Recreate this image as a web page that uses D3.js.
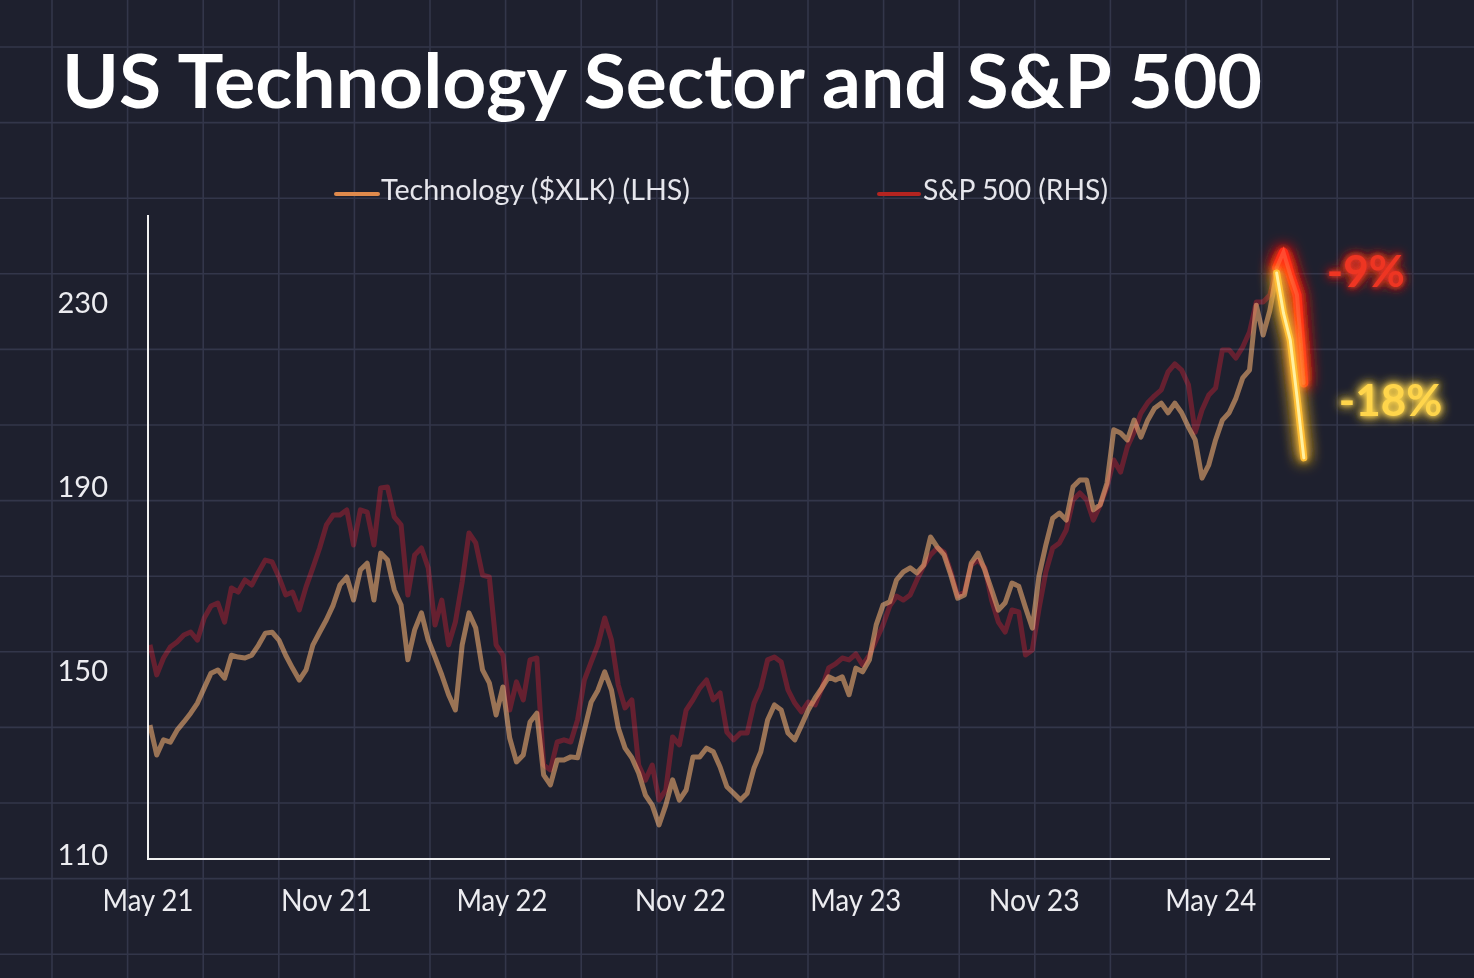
<!DOCTYPE html>
<html><head><meta charset="utf-8">
<script src="https://cdn.jsdelivr.net/npm/d3@7"></script>
<style>html,body{margin:0;padding:0;background:#1e202e;} svg{display:block}</style>
</head><body>
<svg id="chart" width="1474" height="978"></svg>
<script>
// ---------- DATA ----------
const titleText = "US Technology Sector and S&P 500";
const legendLabels = ["Technology ($XLK) (LHS)", "S&P 500 (RHS)"];
const xTickDates = ["2021-05-01","2021-11-01","2022-05-01","2022-11-01","2023-05-01","2023-11-01","2024-05-01"];
const xTickLabels = ["May 21","Nov 21","May 22","Nov 22","May 23","Nov 23","May 24"];
const yTicks = [110, 150, 190, 230];
const xDomain = ["2021-05-01", "2024-09-01"];
const weekStart = "2021-05-03", weekEnd = "2024-08-06";
const dropLabels = ["-9%", "-18%"];
const glowStart = 166; // index where the July 2024 sell-off begins

// Technology Select Sector SPDR ($XLK), weekly, LHS
const techValues = [
138.1,131.6,134.9,134.4,137.0,138.8,140.7,142.9,146.2,149.4,
150.1,148.3,153.3,152.9,152.7,153.3,155.5,158.1,158.3,156.6,
153.3,150.5,147.9,150.1,155.5,158.3,161.0,164.2,168.6,170.3,
165.3,171.8,173.3,165.3,175.5,174.0,167.5,164.2,152.3,158.8,
162.5,156.6,152.9,149.0,144.7,141.4,155.5,162.5,159.2,150.1,
147.3,140.3,146.4,135.3,130.1,131.6,138.8,140.7,127.3,125.1,
130.5,130.5,131.2,131.0,137.0,143.1,145.7,149.7,145.7,137.5,
133.1,131.0,127.7,122.9,120.7,116.4,120.7,126.2,121.8,124.0,
131.2,131.2,133.1,132.3,129.0,124.7,123.3,121.8,123.3,128.8,
132.3,139.2,142.5,141.4,136.4,134.9,138.1,141.4,144.0,146.2,
148.6,147.9,148.6,144.7,150.5,149.7,152.3,159.9,164.2,164.9,
169.7,171.4,172.3,171.2,172.9,179.0,176.8,175.1,170.7,165.7,
166.4,173.3,175.5,171.8,167.5,163.1,164.7,169.0,168.3,163.6,
159.2,170.7,177.3,183.1,184.2,182.7,189.9,191.4,191.4,184.9,
186.0,190.7,202.3,201.6,200.1,204.4,200.7,204.4,207.0,208.1,
206.0,208.1,206.0,202.9,200.1,191.8,194.7,200.1,204.4,206.0,
209.2,213.6,215.3,229.4,222.9,228.3,236.4,227.7,221.8,209.4,
196.2];

// S&P 500 index, weekly, RHS
const spxValues = [
4198,4086,4149,4190,4209,4235,4246,4216,4298,4343,
4354,4283,4410,4395,4440,4421,4470,4514,4507,4451,
4384,4395,4328,4414,4485,4559,4645,4682,4682,4701,
4570,4701,4693,4570,4783,4786,4675,4645,4384,4533,
4559,4485,4272,4365,4198,4283,4432,4615,4578,4458,
4451,4198,4160,3955,4060,3993,4142,4149,3750,3732,
3836,3844,3836,3918,4067,4134,4198,4298,4216,4048,
3963,3993,3750,3694,3750,3620,3657,3855,3825,3955,
3993,4037,4067,3993,4019,3873,3844,3870,3870,3981,
4037,4142,4153,4134,4030,3981,3948,3985,3974,4037,
4112,4127,4149,4142,4164,4123,4160,4216,4272,4343,
4380,4365,4384,4440,4492,4533,4559,4544,4470,4380,
4395,4496,4514,4485,4365,4283,4246,4328,4321,4160,
4179,4335,4470,4559,4578,4626,4738,4764,4738,4663,
4719,4786,4887,4842,4936,4991,5062,5100,5126,5148,
5215,5245,5222,5167,4990,5073,5129,5155,5297,5297,
5267,5308,5364,5476,5476,5502,5603,5662,5577,5502,
5174];

// ---------- CHART ----------
const W = 1474, H = 978;
const parse = d3.timeParse("%Y-%m-%d");
const dates = d3.timeMonday.range(parse(weekStart), parse(weekEnd));
const tech = dates.map((d, i) => ({date: d, v: techValues[i]}));
const spx = dates.map((d, i) => ({date: d, v: spxValues[i]}));

const x = d3.scaleTime().domain(xDomain.map(parse)).range([148, 1330]);
const yL = d3.scaleLinear().domain([109, 249]).range([859, 215]);
const yR = d3.scaleLinear().domain([3400, 5800]).range([859, 215]);

const svg = d3.select("#chart");
const defs = svg.append("defs");

function glow(id, big, small) {
  const f = defs.append("filter").attr("id", id)
    .attr("filterUnits", "userSpaceOnUse").attr("x", 0).attr("y", 0).attr("width", W).attr("height", H);
  f.append("feGaussianBlur").attr("in", "SourceGraphic").attr("stdDeviation", big).attr("result", "b1");
  f.append("feGaussianBlur").attr("in", "SourceGraphic").attr("stdDeviation", small).attr("result", "b2");
  const m = f.append("feMerge");
  ["b1", "b1", "b2", "SourceGraphic"].forEach(n => m.append("feMergeNode").attr("in", n));
}
glow("glowY", 8, 3);
glow("glowR", 8, 3);
glow("glowT", 6, 2.5);

// background + grid
svg.append("rect").attr("width", W).attr("height", H).attr("fill", "#1e202e");
const grid = svg.append("g").attr("stroke", "#33364a").attr("stroke-width", 1.6);
d3.range(-1, 21).forEach(i => {
  const gx = 52 + 75.6 * i, gy = 47 + 75.6 * i;
  grid.append("line").attr("x1", gx).attr("x2", gx).attr("y1", 0).attr("y2", H);
  grid.append("line").attr("y1", gy).attr("y2", gy).attr("x1", 0).attr("x2", W);
});

// title
svg.append("text").attr("x", 62).attr("y", 108)
  .attr("font-family", "Lato, 'Open Sans', sans-serif").attr("font-weight", 700)
  .attr("font-size", 74).attr("fill", "#ffffff")
  .attr("textLength", 1200).attr("lengthAdjust", "spacingAndGlyphs")
  .text(titleText);

// legend
const legend = [
  {sx: 336, ex: 378, tx: 381, tl: 309, color: "#e08a4c", label: legendLabels[0]},
  {sx: 879, ex: 919, tx: 923, tl: 185, color: "#b42420", label: legendLabels[1]}
];
legend.forEach(l => {
  svg.append("line").attr("x1", l.sx).attr("x2", l.ex).attr("y1", 194).attr("y2", 194)
    .attr("stroke", l.color).attr("stroke-width", 4).attr("stroke-linecap", "round");
  svg.append("text").attr("x", l.tx).attr("y", 200)
    .attr("font-family", "Lato, sans-serif").attr("font-size", 29).attr("fill", "#e6e6ec")
    .attr("textLength", l.tl).attr("lengthAdjust", "spacingAndGlyphs").text(l.label);
});

// axes lines
svg.append("line").attr("x1", 148).attr("x2", 148).attr("y1", 215).attr("y2", 860)
  .attr("stroke", "#f2f2f2").attr("stroke-width", 2);
svg.append("line").attr("x1", 147).attr("x2", 1330).attr("y1", 859).attr("y2", 859)
  .attr("stroke", "#f2f2f2").attr("stroke-width", 2);

// y tick labels
svg.append("g").selectAll("text").data(yTicks).join("text")
  .attr("x", 108).attr("y", d => yL(d) + 10.5).attr("text-anchor", "end")
  .attr("font-family", "Lato, sans-serif").attr("font-size", 29).attr("fill", "#ececf0")
  .text(d => d);

// x tick labels
svg.append("g").selectAll("text").data(xTickDates).join("text")
  .attr("x", d => x(parse(d))).attr("y", 911).attr("text-anchor", "middle")
  .attr("font-family", "Lato, sans-serif").attr("font-size", 31).attr("fill", "#ececf0")
  .attr("textLength", 91).attr("lengthAdjust", "spacingAndGlyphs")
  .text((d, i) => xTickLabels[i]);

// series lines
const lineL = d3.line().x(d => x(d.date)).y(d => yL(d.v));
const lineR = d3.line().x(d => x(d.date)).y(d => yR(d.v));
const lines = svg.append("g");
lines.append("path").datum(spx).attr("d", lineR).attr("fill", "none")
  .attr("stroke", "#520003").attr("stroke-width", 5).attr("stroke-linejoin", "round")
  .style("mix-blend-mode", "screen");
lines.append("path").datum(tech).attr("d", lineL).attr("fill", "none")
  .attr("stroke", "#8c5f30").attr("stroke-width", 5).attr("stroke-linejoin", "round")
  .style("mix-blend-mode", "screen");

// glowing sell-off segments
const spxDrop = spx.slice(glowStart), techDrop = tech.slice(glowStart);
svg.append("path").datum(spxDrop).attr("d", lineR).attr("fill", "none")
  .attr("stroke", "#ff2a18").attr("stroke-width", 9).attr("stroke-linejoin", "round").attr("stroke-linecap", "round")
  .attr("filter", "url(#glowR)");
svg.append("path").datum(spxDrop).attr("d", lineR).attr("fill", "none")
  .attr("stroke", "#ff4a30").attr("stroke-width", 4).attr("stroke-linecap", "round");
svg.append("path").datum(techDrop).attr("d", lineL).attr("fill", "none")
  .attr("stroke", "#ffbe34").attr("stroke-width", 7).attr("stroke-linejoin", "round").attr("stroke-linecap", "round")
  .attr("filter", "url(#glowY)");
svg.append("path").datum(techDrop).attr("d", lineL).attr("fill", "none")
  .attr("stroke", "#fff0a0").attr("stroke-width", 3).attr("stroke-linecap", "round");

// drop labels
const lastDate = dates[dates.length - 1];
svg.append("text").attr("x", x(lastDate) + 23).attr("y", yR(d3.max(spxDrop, d => d.v)) + 35)
  .attr("font-family", "Lato, sans-serif").attr("font-weight", 700).attr("font-size", 44)
  .attr("fill", "#ee3522").attr("filter", "url(#glowT)").text(dropLabels[0]);
svg.append("text").attr("x", x(lastDate) + 35).attr("y", yL(techDrop[techDrop.length - 1].v) - 42)
  .attr("font-family", "Lato, sans-serif").attr("font-weight", 700).attr("font-size", 44)
  .attr("fill", "#ffd54c").attr("filter", "url(#glowT)").text(dropLabels[1]);
</script>
</body></html>
